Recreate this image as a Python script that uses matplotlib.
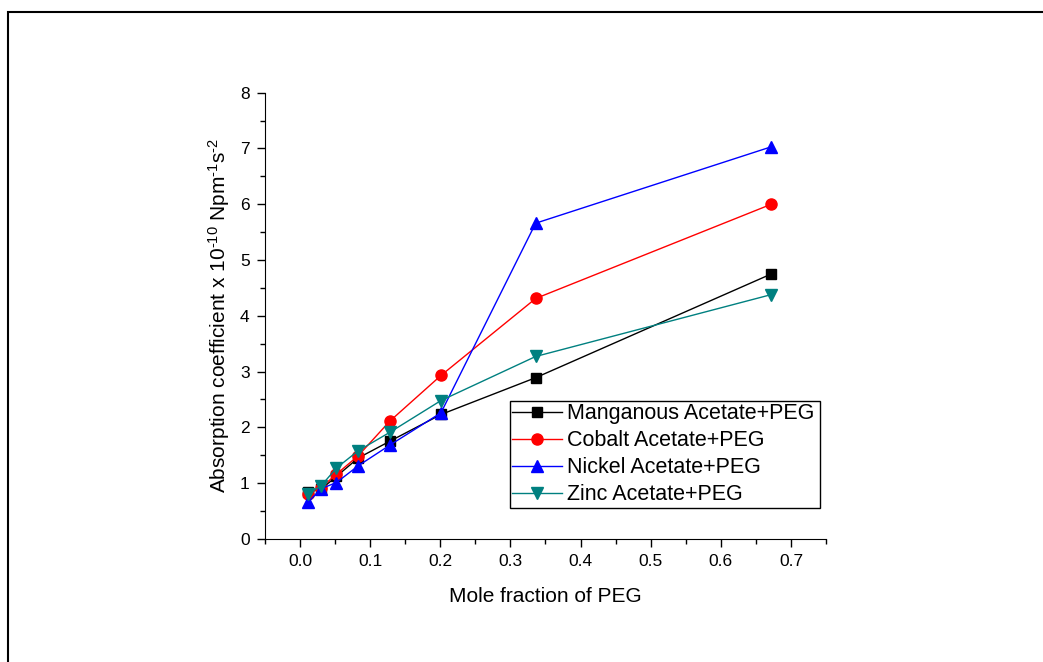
import matplotlib
matplotlib.use("Agg")
import matplotlib.pyplot as plt
from matplotlib.ticker import MultipleLocator
from matplotlib.patches import Rectangle

plt.rcParams['font.family'] = ['Liberation Sans', 'DejaVu Sans']
plt.rcParams['mathtext.fontset'] = 'custom'
plt.rcParams['mathtext.rm'] = 'Liberation Sans'
plt.rcParams['mathtext.it'] = 'Liberation Sans'

# Mole fraction of PEG
mole_frac = [0.012, 0.030, 0.052, 0.083, 0.128, 0.201, 0.336, 0.672]

# Absorption coefficient x 10^-10 Npm^-1 s^-2
manganous = [0.84, 0.89, 1.12, 1.45, 1.75, 2.23, 2.89, 4.75]
cobalt = [0.81, 0.92, 1.16, 1.49, 2.11, 2.93, 4.31, 6.00]
nickel = [0.66, 0.90, 1.01, 1.31, 1.68, 2.26, 5.66, 7.03]
zinc = [0.81, 0.95, 1.27, 1.58, 1.91, 2.48, 3.27, 4.38]

labels = ["Manganous Acetate+PEG", "Cobalt Acetate+PEG",
          "Nickel Acetate+PEG", "Zinc Acetate+PEG"]

fig = plt.figure(figsize=(10.43, 6.62), dpi=100)
ax = fig.add_axes([0.254, 0.186, 0.538, 0.674])

ax.plot(mole_frac, manganous, color='black', marker='s', markersize=7, lw=1, label=labels[0])
ax.plot(mole_frac, cobalt, color='red', marker='o', markersize=8, lw=1, label=labels[1])
ax.plot(mole_frac, nickel, color='blue', marker='^', markersize=8.5, lw=1, label=labels[2])
ax.plot(mole_frac, zinc, color='#008080', marker='v', markersize=8.5, lw=1, label=labels[3])

ax.set_xlim(-0.05, 0.75)
ax.set_ylim(0, 8)
ax.xaxis.set_major_locator(MultipleLocator(0.1))
ax.xaxis.set_minor_locator(MultipleLocator(0.05))
ax.yaxis.set_major_locator(MultipleLocator(1))
ax.yaxis.set_minor_locator(MultipleLocator(0.5))
ax.xaxis.set_major_formatter(plt.FuncFormatter(lambda v, p: "%.1f" % v))
ax.tick_params(which='major', direction='out', length=6, width=1, labelsize=12.5, pad=5)
ax.tick_params(which='minor', direction='out', length=3.5, width=1)
ax.spines['top'].set_visible(False)
ax.spines['right'].set_visible(False)

ax.set_xlabel("Mole fraction of PEG", fontsize=15, labelpad=13)
ax.set_ylabel(r"Absorption coefficient x 10$^{\text{-10}}$ Npm$^{\text{-1}}$s$^{\text{-2}}$",
              fontsize=15, labelpad=6)

leg = ax.legend(loc='lower left', bbox_to_anchor=(0.437, 0.07, 0.552, 0.237), mode='expand',
                fontsize=15.5, fancybox=False, edgecolor='black', framealpha=1,
                handlelength=2.3, handletextpad=0.25, borderpad=0.1, labelspacing=0.28,
                borderaxespad=0)
leg.get_frame().set_linewidth(1)

# outer frame of the figure (only top and left visible)
fig.patches.append(Rectangle((8 / 1043, -0.05), 1.1, 1 - 12 / 662 + 0.05,
                             transform=fig.transFigure, fill=False,
                             edgecolor='black', lw=1.5))

fig.savefig("out.png", dpi=100)
